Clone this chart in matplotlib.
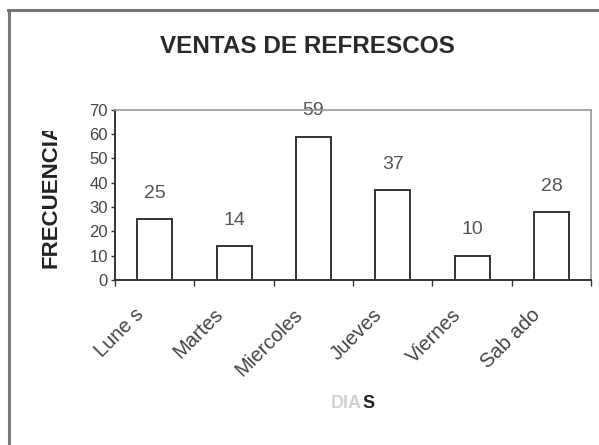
import matplotlib.pyplot as plt
from matplotlib.lines import Line2D
from matplotlib.patches import Rectangle
from matplotlib.transforms import ScaledTranslation

# --- datos ---
dias = ["Lunes", "Martes", "Miercoles", "Jueves", "Viernes", "Sabado"]
etiquetas_x = ["Lune s", "Martes", "Miercoles", "Jueves", "Viernes", "Sab ado"]
frecuencia = [25, 14, 59, 37, 10, 28]
ticks_y = [0, 10, 20, 30, 40, 50, 60, 70]

plt.rcParams["font.family"] = ["Liberation Sans", "DejaVu Sans"]

fig = plt.figure(figsize=(5.99, 4.45), dpi=100)
ax = fig.add_axes([0.192, 0.371, 0.795, 0.382])

pos = list(range(len(dias)))
ax.bar(pos, frecuencia, width=0.44, color="white",
       edgecolor="#333333", linewidth=1.4, zorder=3)

for x, v in zip(pos, frecuencia):
    ax.annotate(str(v), (x, v), xytext=(0, 18.5), textcoords="offset points",
                ha="center", va="center", fontsize=14, color="#555555",
                zorder=1)

ax.set_xlim(-0.5, len(dias) - 0.5)
ax.set_ylim(0, 70)
ax.set_yticks(ticks_y)
ax.set_yticklabels([str(t) for t in ticks_y], fontsize=12, color="#444444")

# ticks de categoria entre barras
ax.set_xticks([p - 0.5 for p in pos] + [len(dias) - 0.5])
ax.set_xticklabels([])
ax.set_xticks(pos, minor=True)
ax.set_xticklabels(etiquetas_x, minor=True, rotation=45, ha="right",
                   va="top", fontsize=14.5, color="#444444")
ax.tick_params(axis="x", which="minor", length=0, pad=18)
ax.tick_params(axis="x", which="major", length=4, width=1, color="#333333")
ax.tick_params(axis="y", length=3, width=1, color="#333333", pad=2)

desplazar = ScaledTranslation(-7 / 100, 0, fig.dpi_scale_trans)
for t in ax.get_xticklabels(minor=True):
    t.set_transform(t.get_transform() + desplazar)

for lado in ["left", "bottom"]:
    ax.spines[lado].set_color("#333333")
    ax.spines[lado].set_linewidth(1.4)
for lado in ["top", "right"]:
    ax.spines[lado].set_color("#999999")
    ax.spines[lado].set_linewidth(1.2)

# titulo
fig.text(0.513, 0.895, "VENTAS DE REFRESCOS", ha="center", va="center",
         fontsize=17.5, fontweight="bold", color="#2a2a2a")

# etiqueta eje y (recortada arriba como en la imagen)
fig.text(51 / 599, 1 - 268 / 445, "FRECUENCIA", rotation=90,
         ha="center", va="bottom", fontsize=16, fontweight="bold",
         color="#222222")
fig.add_artist(Rectangle((35 / 599, 1 - 131 / 445), 30 / 599, 25 / 445,
                         transform=fig.transFigure, facecolor="white",
                         edgecolor="none", zorder=10))

# etiqueta eje x
fig.text(362 / 599, 1 - 404 / 445, "DIA", ha="right", va="center",
         fontsize=13, fontweight="bold", color="#d0d0d0")
fig.text(362 / 599, 1 - 404 / 445, "S", ha="left", va="center",
         fontsize=13, fontweight="bold", color="#222222")

# marco exterior
fig.add_artist(Line2D([9 / 599, 9 / 599], [0, 1 - 10 / 445],
                      transform=fig.transFigure, color="#777777", lw=2.2))
fig.add_artist(Line2D([8 / 599, 1], [1 - 10 / 445, 1 - 10 / 445],
                      transform=fig.transFigure, color="#777777", lw=2.2))

fig.savefig("out.png", dpi=100)
